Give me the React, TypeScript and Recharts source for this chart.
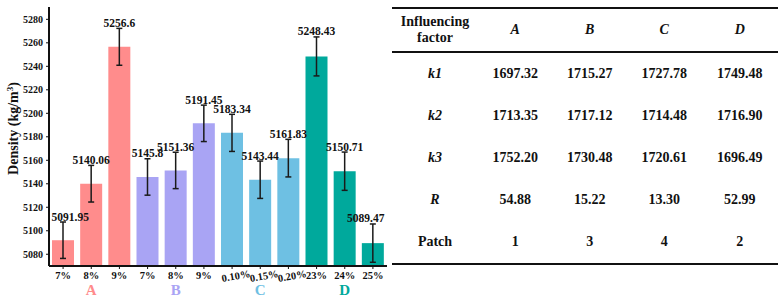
import React from 'react';
import { BarChart, Bar, XAxis, YAxis, ErrorBar, Cell, LabelList } from 'recharts';

// ---- data ----
const levelLabels = ['7%', '8%', '9%', '7%', '8%', '9%', '0.10%', '0.15%', '0.20%', '23%', '24%', '25%'];
const factorOf = ['A', 'A', 'A', 'B', 'B', 'B', 'C', 'C', 'C', 'D', 'D', 'D'];
const densities = [5091.95, 5140.06, 5256.6, 5145.8, 5151.36, 5191.45, 5183.34, 5143.44, 5161.83, 5248.43, 5150.71, 5089.47];
const errors = [15.5, 15.6, 15.7, 15.5, 15.5, 15.5, 15.8, 15.9, 16.0, 16.6, 16.3, 16.3];
const yTicks = [5080, 5100, 5120, 5140, 5160, 5180, 5200, 5220, 5240, 5260, 5280];

const factorNames = ['A', 'B', 'C', 'D'];
const rowLabels = ['k1', 'k2', 'k3', 'R', 'Patch'];
const k1Values = [1697.32, 1715.27, 1727.78, 1749.48];
const k2Values = [1713.35, 1717.12, 1714.48, 1716.9];
const k3Values = [1752.2, 1730.48, 1720.61, 1696.49];
const rangeValues = [54.88, 15.22, 13.3, 52.99];
const patchValues = [1, 3, 4, 2];

// ---- styling ----
const FONT = '"Liberation Serif", "Times New Roman", serif';
const INK = '#111';
const factorColors: Record<string, string> = {
  A: '#FF8C8C',
  B: '#A9A4F4',
  C: '#6EC0E3',
  D: '#00A99C',
};
const Y_DOMAIN: [number, number] = [5070, 5290.5];
const PLOT_LEFT = 49;
const PLOT_RIGHT = 387;

const chartData = densities.map((d, i) => ({
  id: `${factorOf[i]}-${levelLabels[i]}`,
  level: levelLabels[i],
  factor: factorOf[i],
  density: d,
  err: errors[i],
}));

// x tick: level text, plus the factor letter under the middle bar of each group
function LevelTick(props: any) {
  const { x, y, index } = props;
  const i = index ?? 0;
  const label = levelLabels[i];
  const tilted = label.length > 3;
  const isMiddle = i % 3 === 1;
  return (
    <g>
      {tilted ? (
        <text
          x={x + 4}
          y={y + 1}
          dy="0.71em"
          textAnchor="middle"
          fontFamily={FONT}
          fontWeight="bold"
          fontSize={10.5}
          fill={INK}
          transform={`rotate(-10, ${x + 4}, ${y + 6})`}
        >
          {label}
        </text>
      ) : (
        <text x={x} y={y + 1} dy="0.71em" textAnchor="middle" fontFamily={FONT} fontWeight="bold" fontSize={10.5} fill={INK}>
          {label}
        </text>
      )}
      {isMiddle && (
        <text
          x={x}
          y={y + 13}
          dy="0.71em"
          textAnchor="middle"
          fontFamily={FONT}
          fontWeight="bold"
          fontSize={15}
          fill={factorColors[factorOf[i]]}
        >
          {factorOf[i]}
        </text>
      )}
    </g>
  );
}

// value label sitting on top of the error bar, kept inside the plot frame
function ValueLabel(props: any) {
  const { x, y, width, height, value } = props;
  const i = props.index ?? densities.indexOf(value);
  const v = densities[i];
  const pxPerUnit = height / (v - Y_DOMAIN[0]);
  const errTop = y - errors[i] * pxPerUnit;
  const text = String(v);
  const half = text.length * 2.75;
  let cx = x + width / 2;
  cx = Math.max(PLOT_LEFT + half + 2, Math.min(PLOT_RIGHT - half - 2, cx));
  return (
    <text x={cx} y={errTop - 1.5} textAnchor="middle" fontFamily={FONT} fontWeight="bold" fontSize={11.5} fill={INK}>
      {text}
    </text>
  );
}

function YTitle(props: any) {
  const vb = props.viewBox || { x: 0, y: 7, width: 49, height: 259 };
  const bx = vb.x + 18;
  const cy = vb.y + vb.height / 2 - 8;
  return (
    <text
      x={bx}
      y={cy}
      textAnchor="middle"
      fontFamily={FONT}
      fontWeight="bold"
      fontSize={14}
      fill={INK}
      transform={`rotate(-90, ${bx}, ${cy})`}
    >
      Density (kg/m
      <tspan dy={-5} fontSize={9}>3</tspan>
      <tspan dy={5}>)</tspan>
    </text>
  );
}

const tableRows: { label: string; italic: boolean; cells: string[] }[] = [
  { label: rowLabels[0], italic: true, cells: k1Values.map((v) => v.toFixed(2)) },
  { label: rowLabels[1], italic: true, cells: k2Values.map((v) => v.toFixed(2)) },
  { label: rowLabels[2], italic: true, cells: k3Values.map((v) => v.toFixed(2)) },
  { label: rowLabels[3], italic: true, cells: rangeValues.map((v) => v.toFixed(2)) },
  { label: rowLabels[4], italic: false, cells: patchValues.map((v) => String(v)) },
];
const colWidths = [86, 74.5, 74.5, 74.5, 76.5];

function RangeTable() {
  const cell = (w: number, content: React.ReactNode, italic: boolean, key: React.Key) => (
    <div
      key={key}
      style={{
        width: w,
        textAlign: 'center',
        fontStyle: italic ? 'italic' : 'normal',
      }}
    >
      {content}
    </div>
  );
  return (
    <div
      style={{
        position: 'absolute',
        left: 392,
        top: 7,
        width: 386,
        fontFamily: FONT,
        fontWeight: 'bold',
        fontSize: 14,
        color: INK,
        borderTop: `2px solid ${INK}`,
        borderBottom: `2px solid ${INK}`,
      }}
    >
      <div style={{ display: 'flex', alignItems: 'center', height: 42, borderBottom: `2px solid ${INK}`, lineHeight: '16px' }}>
        {cell(colWidths[0], <>Influencing<br />factor</>, false, 'h')}
        {factorNames.map((f, j) => cell(colWidths[j + 1], f, true, f))}
      </div>
      {tableRows.map((r) => (
        <div key={r.label} style={{ display: 'flex', alignItems: 'center', height: 42 }}>
          {cell(colWidths[0], r.label, r.italic, 'l')}
          {r.cells.map((c, j) => cell(colWidths[j + 1], c, false, j))}
        </div>
      ))}
    </div>
  );
}

export default function App() {
  const axisLine = { stroke: INK, strokeWidth: 2 };
  return (
    <div style={{ position: 'absolute', left: 0, top: 0, width: 783, height: 302, background: '#fff' }}>
      <BarChart width={392} height={302} data={chartData} margin={{ top: 7, right: 5, bottom: 0, left: 0 }} barSize={22}>
        <XAxis
          xAxisId="bottom"
          dataKey="id"
          height={36}
          interval={0}
          tick={<LevelTick />}
          tickSize={3}
          tickLine={{ stroke: INK }}
          axisLine={axisLine}
        />
        <XAxis xAxisId="top" dataKey="id" orientation="top" height={0} tick={false} tickLine={false} axisLine={axisLine} />
        <YAxis
          yAxisId="left"
          type="number"
          domain={Y_DOMAIN}
          allowDataOverflow
          ticks={yTicks}
          width={49}
          tickSize={3}
          tickMargin={3}
          tickLine={{ stroke: INK }}
          axisLine={axisLine}
          tick={{ fontFamily: FONT, fontWeight: 'bold', fontSize: 10, fill: INK }}
          label={<YTitle />}
        />
        <YAxis
          yAxisId="right"
          orientation="right"
          type="number"
          domain={Y_DOMAIN}
          allowDataOverflow
          width={0}
          tick={false}
          tickLine={false}
          axisLine={axisLine}
        />
        <Bar dataKey="density" xAxisId="bottom" yAxisId="left" isAnimationActive={false}>
          {chartData.map((d) => (
            <Cell key={d.id} fill={factorColors[d.factor]} />
          ))}
          <ErrorBar dataKey="err" direction="y" width={3} stroke="#1a1a1a" strokeWidth={1.5} />
          <LabelList dataKey="density" content={<ValueLabel />} />
        </Bar>
      </BarChart>
      <RangeTable />
    </div>
  );
}
